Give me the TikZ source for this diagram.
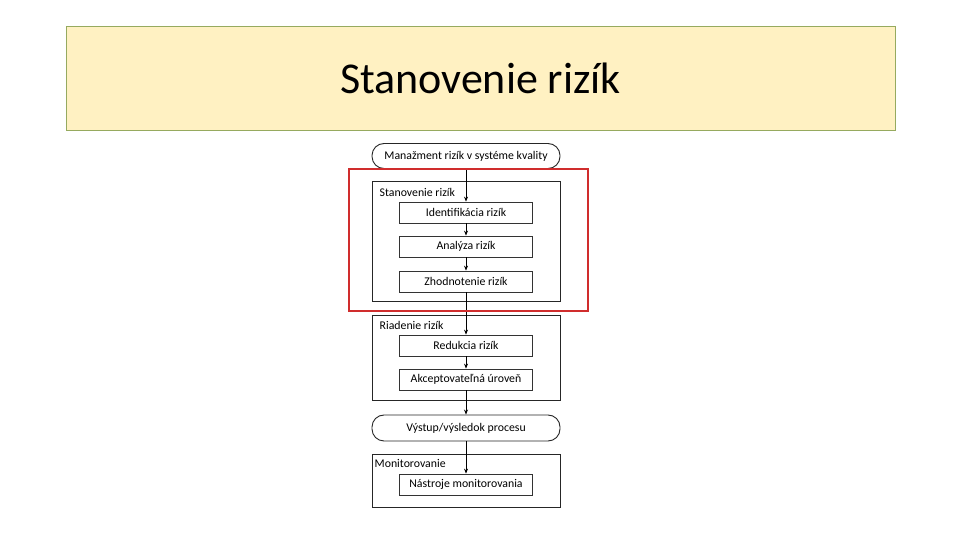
\documentclass[tikz,border=0pt]{standalone}
\usepackage{fontspec}
\setmainfont{Carlito}
\definecolor{titlefill}{RGB}{255,241,194}
\definecolor{titleline}{RGB}{150,170,95}
\definecolor{focusred}{RGB}{208,45,45}
\usetikzlibrary{arrows.meta,positioning}

\begin{document}
\begin{tikzpicture}[
		x=1pt, y=1pt,
		stage/.style={rectangle, draw=black!85, line width=1pt, minimum width=188pt,
				inner sep=0pt},
		stepbox/.style={rectangle, draw=black!80, fill=white, line width=0.8pt,
				minimum width=133pt, minimum height=21pt, inner sep=0pt,
				font=\fontsize{11.8}{13}\selectfont},
		pill/.style={rectangle, rounded corners=12pt, draw=black!85, fill=white, line width=0.9pt,
				minimum width=188pt, minimum height=25pt, inner sep=0pt,
				font=\fontsize{11.8}{13}\selectfont},
		grouplabel/.style={anchor=north west, inner sep=0pt, font=\fontsize{11.8}{13}\selectfont},
		arr/.style={-{Stealth[length=5pt, width=4pt]}, line width=0.7pt, black},
		]
		\useasboundingbox (0,0) rectangle (960,540);

		% Title
		\node[rectangle, draw=titleline, fill=titlefill, line width=0.8pt,
			minimum width=829pt, minimum height=104pt] (title) at (480.5,462)
			{\fontsize{44}{48}\selectfont Stanovenie rizík};

		% Group boxes
		\node[stage, minimum height=120pt] (assess) at (466,298) {};
		\node[stage, minimum height=85pt] (control) at (466,181.5) {};
		\node[stage, minimum height=53pt] (monitor) at (466,58.5) {};
		\node[grouplabel] at ([xshift=8pt, yshift=-7pt]assess.north west) {Stanovenie rizík};
		\node[grouplabel] at ([xshift=8pt, yshift=-6pt]control.north west) {Riadenie rizík};
		\node[grouplabel] at ([xshift=3pt, yshift=-5pt]monitor.north west) {Monitorovanie};

		% Nodes
		\node[pill] (qms) at (466,384) {Manažment rizík v systéme kvality};
		\node[stepbox] (ident) at (466,327.5) {Identifikácia rizík};
		\node[stepbox] (analysis) at (466,293.5) {Analýza rizík};
		\node[stepbox] (evaluation) at (466,258.5) {Zhodnotenie rizík};
		\node[stepbox] (reduction) at (466,194.5) {Redukcia rizík};
		\node[stepbox] (acceptance) at (466,160.5) {Akceptovateľná úroveň};
		\node[pill, minimum height=26pt] (output) at (466,112) {Výstup/výsledok procesu};
		\node[stepbox] (tools) at (466,55.5) {Nástroje monitorovania};

		% Arrows
		\draw[arr] (qms) -- (ident);
		\draw[arr] (ident) -- (analysis);
		\draw[arr] (analysis) -- (evaluation);
		\draw[arr] (evaluation) -- (reduction);
		\draw[arr] (reduction) -- (acceptance);
		\draw[arr] (acceptance) -- (output);
		\draw[arr] (output) -- (tools);

		% Highlight
		\node[rectangle, draw=focusred, line width=2.5pt, minimum width=239pt,
			minimum height=142pt] (focus) at (468.5,300) {};
	\end{tikzpicture}
\end{document}
